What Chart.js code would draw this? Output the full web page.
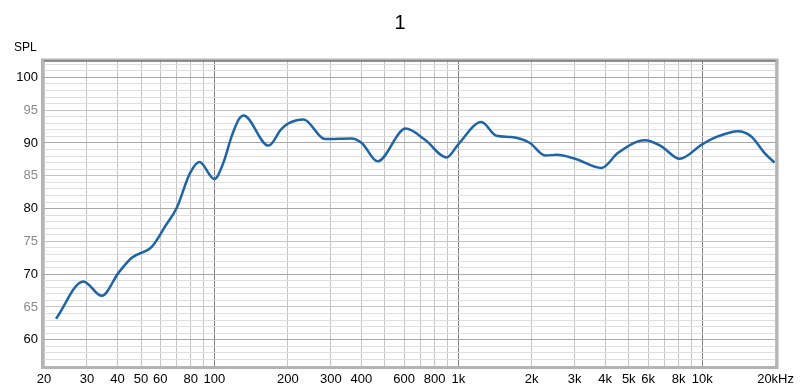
<!DOCTYPE html>
<html>
<head>
<meta charset="utf-8">
<title>1</title>
<script src="https://cdn.jsdelivr.net/npm/chart.js@4"></script>
<style>
    html, body { margin: 0; padding: 0; background: #fff; }
    #wrap { width: 800px; height: 391px; position: relative; }
</style>
</head>
<body>
<div id="wrap"><canvas id="splChart"></canvas></div>
<script>
// Frequency response data (Hz / dB)
const freqs = [22.4, 29.0, 34.5, 40.4, 45.8, 55.4, 62.8, 70, 79.4, 86.8, 100, 108.8, 117.6, 125.8, 131.6,
    166.6, 188, 201, 232, 284, 365, 402, 467, 608, 730, 896, 1000, 1242, 1434, 1650, 1966,
    2272, 2538, 3010, 3870, 4520, 5820, 6796, 8080, 10000, 11600, 14000, 15900, 18000, 19800];
const spl = [63.2, 68.9, 66.7, 70.2, 72.5, 74.2, 77.3, 80.1, 85.4, 87.1, 84.5, 87.0, 91.0, 93.6, 94.2,
    89.6, 92.1, 93.0, 93.6, 90.6, 90.7, 90.0, 87.2, 92.2, 90.5, 87.8, 89.8, 93.2, 91.1, 90.9, 90.0,
    88.1, 88.2, 87.6, 86.2, 88.5, 90.4, 89.5, 87.6, 89.8, 91.0, 91.8, 91.0, 88.5, 87.0];

// Axis ticks
const xGridValues = [20, 30, 40, 50, 60, 70, 80, 90, 100, 200, 300, 400, 500, 600, 700, 800, 900,
    1000, 2000, 3000, 4000, 5000, 6000, 7000, 8000, 9000, 10000, 20000];
const xLabelValues = [20, 30, 40, 50, 60, 80, 100, 200, 300, 400, 600, 800, 1000,
    2000, 3000, 4000, 5000, 6000, 8000, 10000, 20000];
const xLabelTexts = ['20', '30', '40', '50', '60', '80', '100', '200', '300', '400', '600', '800', '1k',
    '2k', '3k', '4k', '5k', '6k', '8k', '10k', '20kHz'];
const yMin = 56;
const yMax = 102.5;
const chartTitle = '1';
const yAxisName = 'SPL';

const points = freqs.map((f, i) => ({ x: f, y: spl[i] }));

// frame, title and "SPL" label
const framePlugin = {
    id: 'frame',
    afterDraw(chart) {
        const { ctx, chartArea: a } = chart;
        ctx.save();
        ctx.strokeStyle = '#b4b4b4';
        ctx.lineWidth = 3;
        ctx.strokeRect(a.left - 1.5, a.top - 1, a.right - a.left + 3, a.bottom - a.top + 2.5);
        ctx.strokeStyle = '#7a7a7a';
        ctx.lineWidth = 1.5;
        ctx.beginPath();
        ctx.moveTo(a.left, a.top);
        ctx.lineTo(a.right, a.top);
        ctx.stroke();

        ctx.fillStyle = '#000';
        ctx.textBaseline = 'middle';
        ctx.font = '12px "Liberation Sans", Arial, sans-serif';
        ctx.textAlign = 'left';
        ctx.fillText(yAxisName, 14, 48);
        ctx.font = '20px "Liberation Sans", Arial, sans-serif';
        ctx.textAlign = 'center';
        ctx.fillText(chartTitle, chart.width / 2, 23);
        ctx.restore();
    }
};

new Chart(document.getElementById('splChart'), {
    type: 'line',
    data: {
        datasets: [{
            label: chartTitle,
            data: points,
            borderColor: '#1f64a6',
            borderWidth: 2.5,
            pointRadius: 0,
            fill: false,
            cubicInterpolationMode: 'monotone'
        }]
    },
    options: {
        responsive: true,
        maintainAspectRatio: false,
        animation: false,
        layout: { padding: { left: 0, right: 22, top: 61, bottom: 0 } },
        plugins: {
            legend: { display: false },
            tooltip: { enabled: false },
            title: { display: false }
        },
        scales: {
            x: {
                type: 'logarithmic',
                min: 20,
                max: 20000,
                afterBuildTicks(scale) {
                    scale.ticks = xGridValues.map(v => ({ value: v }));
                },
                afterFit(scale) { scale.height = 25; },
                border: { display: false },
                grid: {
                    drawTicks: false,
                    lineWidth: 1,
                    color: ctx => {
                        const v = ctx.tick && ctx.tick.value;
                        return (v === 100 || v === 1000 || v === 10000) ? '#808080' : '#c4c4c4';
                    }
                },
                ticks: {
                    autoSkip: false,
                    maxRotation: 0,
                    padding: 6,
                    color: '#000',
                    font: { family: '"Liberation Sans", Arial, sans-serif', size: 13 },
                    callback(value) {
                        const i = xLabelValues.indexOf(value);
                        return i >= 0 ? xLabelTexts[i] : '';
                    }
                }
            },
            y: {
                min: yMin,
                max: yMax,
                afterBuildTicks(scale) {
                    const t = [];
                    for (let v = 56; v <= 102; v++) t.push({ value: v });
                    scale.ticks = t;
                },
                afterFit(scale) { scale.width = 44; },
                border: { display: false },
                grid: {
                    drawTicks: false,
                    lineWidth: 1,
                    color: ctx => {
                        const v = ctx.tick && ctx.tick.value;
                        if (v % 10 === 0) return '#a8a8a8';
                        if (v % 5 === 0) return '#c4c4c4';
                        return '#dedede';
                    }
                },
                ticks: {
                    autoSkip: false,
                    padding: 6,
                    font: { family: '"Liberation Sans", Arial, sans-serif', size: 13 },
                    color: ctx => (ctx.tick && ctx.tick.value % 10 === 0) ? '#000' : '#8a8a8a',
                    callback(value) {
                        return value % 5 === 0 ? String(value) : '';
                    }
                }
            }
        }
    },
    plugins: [framePlugin]
});
</script>
</body>
</html>
